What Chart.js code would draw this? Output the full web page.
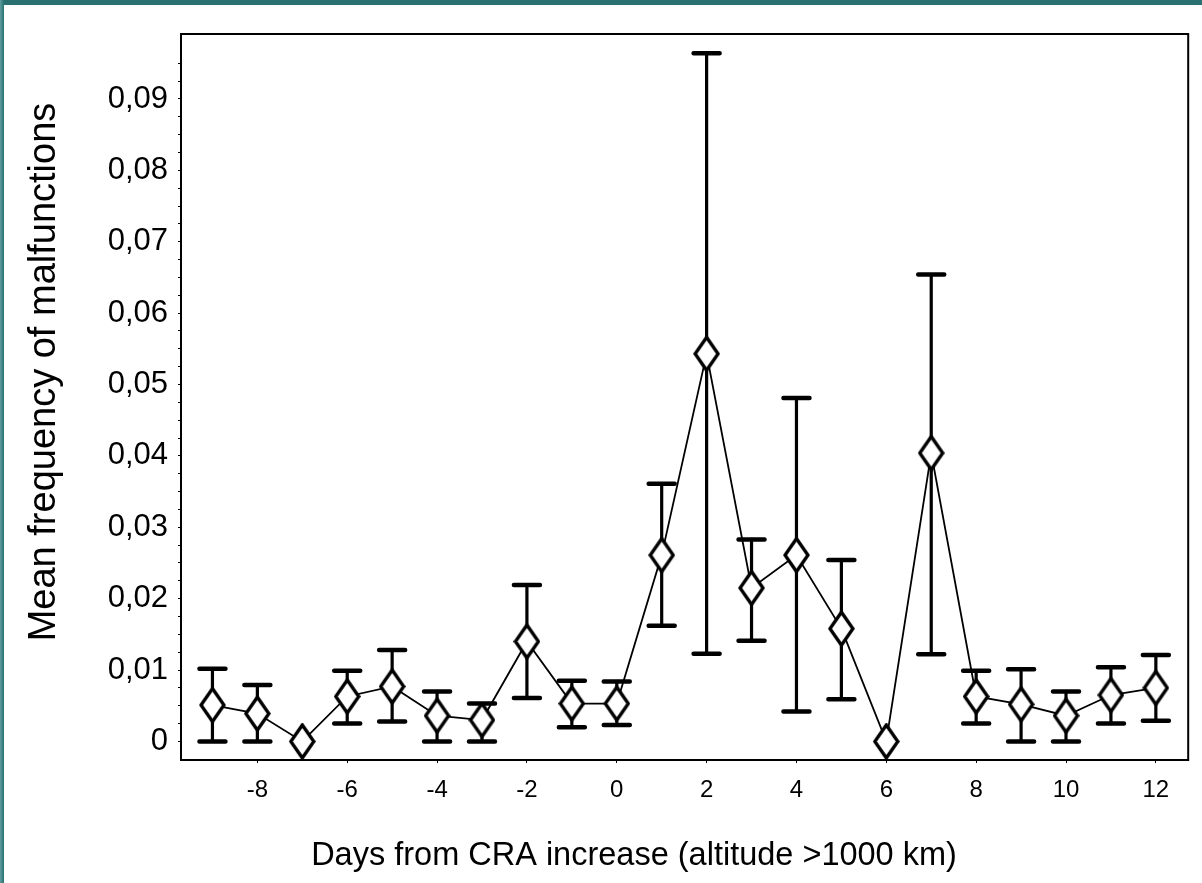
<!DOCTYPE html>
<html lang="en">
<head>
    <meta charset="UTF-8">
    <title>Mean frequency of malfunctions</title>
    <script src="https://cdn.jsdelivr.net/npm/chart.js"></script>
    <style>
        html, body { margin: 0; padding: 0; background: #2a7070; }
        body { width: 1202px; height: 883px; overflow: hidden; background: linear-gradient(to right, #5f9ea0 0, #2a7070 4px); }
        .sheet { position: absolute; left: 4px; top: 5px; width: 1198px; height: 878px; background: #fff; }
    </style>
</head>
<body>
    <div class="sheet">
        <canvas id="myChart" width="1198" height="878"></canvas>
    </div>

    <script>
        // days from CRA increase
        const days = [-9, -8, -7, -6, -5, -4, -3, -2, -1, 0, 1, 2, 3, 4, 5, 6, 7, 8, 9, 10, 11, 12]
        // mean frequency and error bar ends
        const meanFreq = [0.0051, 0.0039, 0, 0.0063, 0.0077, 0.0036, 0.0030, 0.0140, 0.0053, 0.0053, 0.0261,
            0.0543, 0.0215, 0.0261, 0.0158, 0, 0.0404, 0.0063, 0.0052, 0.0036, 0.0065, 0.0075]
        const upperFreq = [0.0102, 0.0079, 0, 0.0099, 0.0128, 0.0070, 0.0053, 0.0219, 0.0085, 0.0084, 0.0361,
            0.0964, 0.0283, 0.0481, 0.0254, 0, 0.0654, 0.0099, 0.0101, 0.0070, 0.0104, 0.0121]
        const lowerFreq = [0, 0, 0, 0.0025, 0.0028, 0, 0, 0.0061, 0.0020, 0.0023, 0.0162,
            0.0123, 0.0141, 0.0042, 0.0059, 0, 0.0122, 0.0025, 0, 0, 0.0025, 0.0029]

        const xTicks = [-8, -6, -4, -2, 0, 2, 4, 6, 8, 10, 12]
        const yLabelTicks = [0, 0.01, 0.02, 0.03, 0.04, 0.05, 0.06, 0.07, 0.08, 0.09]
        const yMinorStep = 0.0025

        const xTitle = 'Days from CRA increase (altitude >1000 km)'
        const yTitle = 'Mean frequency of malfunctions'
        const fontFamily = '"Liberation Sans", Arial, sans-serif'

        // diamond marker, a bit taller than wide like the original
        const diamond = document.createElement('canvas')
        diamond.width = 27
        diamond.height = 37
        const dctx = diamond.getContext('2d')
        dctx.beginPath()
        dctx.moveTo(13.5, 2)
        dctx.lineTo(25, 18.5)
        dctx.lineTo(13.5, 35)
        dctx.lineTo(2, 18.5)
        dctx.closePath()
        dctx.fillStyle = '#fff'
        dctx.fill()
        dctx.lineWidth = 3.4
        dctx.strokeStyle = '#000'
        dctx.stroke()

        const errorBars = {
            id: 'errorBars',
            beforeDatasetsDraw(chart) {
                const ctx = chart.ctx
                const xs = chart.scales.x
                const ys = chart.scales.y
                ctx.save()
                ctx.strokeStyle = '#000'
                ctx.lineCap = 'round'
                days.forEach((d, i) => {
                    if (upperFreq[i] === lowerFreq[i]) return
                    const px = xs.getPixelForValue(d)
                    const top = ys.getPixelForValue(upperFreq[i])
                    const bot = ys.getPixelForValue(lowerFreq[i])
                    ctx.lineWidth = 3.2
                    ctx.beginPath()
                    ctx.moveTo(px, top)
                    ctx.lineTo(px, bot)
                    ctx.stroke()
                    ctx.lineWidth = 4.5
                    ctx.beginPath()
                    ctx.moveTo(px - 13, top)
                    ctx.lineTo(px + 13, top)
                    ctx.moveTo(px - 13, bot)
                    ctx.lineTo(px + 13, bot)
                    ctx.stroke()
                })
                ctx.restore()
            }
        }

        const frameAndTitles = {
            id: 'frameAndTitles',
            beforeDatasetsDraw(chart) {
                const a = chart.chartArea
                const ctx = chart.ctx
                ctx.save()
                ctx.strokeStyle = '#000'
                ctx.lineWidth = 2
                ctx.strokeRect(a.left, a.top, a.right - a.left, a.bottom - a.top)
                ctx.restore()
            },
            afterDraw(chart) {
                const ctx = chart.ctx
                ctx.save()
                ctx.fillStyle = '#000'
                ctx.textAlign = 'center'
                ctx.textBaseline = 'middle'
                ctx.font = '32.5px ' + fontFamily
                ctx.fillText(xTitle, 630, 851)
                ctx.translate(41, 367)
                ctx.rotate(-Math.PI / 2)
                ctx.font = '38px ' + fontFamily
                ctx.fillText(yTitle, 0, 0)
                ctx.restore()
            }
        }

        var ctx = document.getElementById('myChart')
        var myChart = new Chart(ctx, {
            type: 'line',
            data: {
                datasets: [{
                    label: 'Mean frequency',
                    data: days.map((d, i) => ({ x: d, y: meanFreq[i] })),
                    borderColor: '#000',
                    borderWidth: 1.8,
                    pointStyle: diamond,
                    pointRadius: 12,
                    clip: false,
                    tension: 0
                }]
            },
            options: {
                responsive: false,
                devicePixelRatio: 1,
                animation: false,
                layout: { padding: { top: 29, right: 9, left: 0, bottom: 0 } },
                plugins: {
                    legend: { display: false },
                    tooltip: { enabled: false }
                },
                scales: {
                    x: {
                        type: 'linear',
                        min: -9.7,
                        max: 12.72,
                        afterFit: (s) => { s.height = 123 },
                        afterBuildTicks: (s) => { s.ticks = xTicks.map(v => ({ value: v })) },
                        border: { display: false },
                        grid: { drawOnChartArea: false, drawTicks: true, tickLength: 3, color: '#000' },
                        ticks: {
                            autoSkip: false,
                            maxRotation: 0,
                            padding: 13,
                            color: '#000',
                            font: { family: fontFamily, size: 24 },
                            callback: (v) => String(v)
                        }
                    },
                    y: {
                        min: -0.0026,
                        max: 0.0991,
                        afterFit: (s) => { s.width = 177 },
                        afterBuildTicks: (s) => {
                            const t = []
                            for (let v = 0; v <= 0.0975; v += yMinorStep) t.push({ value: Math.round(v * 10000) / 10000 })
                            s.ticks = t
                        },
                        border: { display: false },
                        grid: { drawOnChartArea: false, drawTicks: true, tickLength: 3, color: '#000' },
                        ticks: {
                            autoSkip: false,
                            padding: 10,
                            color: '#000',
                            font: { family: fontFamily, size: 31 },
                            callback: (v) => {
                                if (!yLabelTicks.some(t => Math.abs(t - v) < 1e-6)) return ''
                                return v === 0 ? '0' : v.toFixed(2).replace('.', ',')
                            }
                        }
                    }
                }
            },
            plugins: [errorBars, frameAndTitles]
        })
    </script>
</body>
</html>
